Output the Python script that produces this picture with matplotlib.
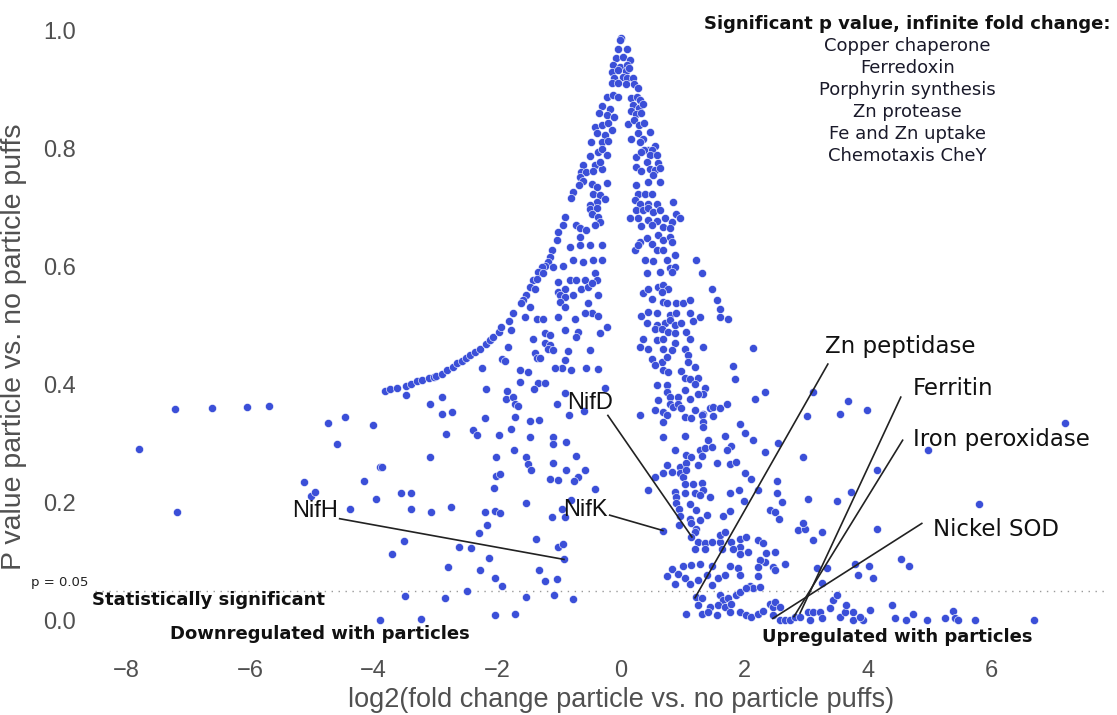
import matplotlib
matplotlib.use("Agg")
import matplotlib.pyplot as plt

# (log2 fold change, p value), grouped by region
peak = [
    (0.01, 0.987), (-0.02, 0.983), (-0.04, 0.968), (0.10, 0.968), (-0.08, 0.952), (0.04, 0.955), (0.15, 0.950),
    (-0.13, 0.941), (-0.02, 0.938), (0.10, 0.940), (-0.15, 0.929), (-0.04, 0.932), (0.08, 0.931), (0.13, 0.936),
    (-0.11, 0.919), (0.03, 0.920), (0.10, 0.918), (0.20, 0.918), (-0.15, 0.910), (-0.04, 0.910), (0.08, 0.908),
    (0.21, 0.909), (0.28, 0.902), (-0.23, 0.887), (-0.12, 0.890), (-0.04, 0.887), (0.16, 0.885), (0.26, 0.887),
    (0.31, 0.881), (-0.31, 0.872), (-0.18, 0.867), (0.20, 0.873), (0.29, 0.868), (0.36, 0.874), (-0.35, 0.859),
    (-0.23, 0.856), (-0.11, 0.853), (0.17, 0.863), (0.25, 0.857), (0.33, 0.860), (-0.42, 0.836), (-0.31, 0.839),
    (-0.20, 0.842), (0.12, 0.840), (0.21, 0.847), (0.29, 0.839), (0.38, 0.842), (0.47, 0.828), (-0.39, 0.825),
    (-0.26, 0.822), (-0.15, 0.831), (0.17, 0.815), (0.28, 0.825), (0.36, 0.816), (-0.49, 0.811), (-0.30, 0.810),
    (-0.20, 0.812), (0.31, 0.810), (0.55, 0.804), (0.44, 0.797), (0.37, 0.797), (0.50, 0.796), (-0.50, 0.787),
    (-0.37, 0.794), (-0.31, 0.798), (-0.23, 0.788), (0.25, 0.785), (0.33, 0.794), (0.47, 0.789), (0.58, 0.789),
    (0.42, 0.777), (0.60, 0.774), (-0.61, 0.771), (-0.42, 0.771), (-0.31, 0.764), (-0.34, 0.777), (0.25, 0.768),
    (0.33, 0.761), (0.47, 0.764), (0.55, 0.763), (0.63, 0.767), (-0.64, 0.760), (-0.56, 0.760), (-0.45, 0.761),
]

upper = [
    (-0.66, 0.751), (-0.62, 0.745), (-0.67, 0.737), (-0.47, 0.739), (-0.38, 0.734), (-0.22, 0.741), (-0.77, 0.726),
    (-0.80, 0.715), (-0.45, 0.723), (-0.34, 0.720), (-0.26, 0.713), (-0.39, 0.709), (-0.50, 0.704), (-0.50, 0.696),
    (-0.39, 0.698), (-0.47, 0.689), (-0.37, 0.684), (-0.34, 0.675), (-0.91, 0.684), (-0.93, 0.669), (-0.72, 0.669),
    (-0.66, 0.664), (-0.56, 0.661), (-0.42, 0.669), (-1.01, 0.658), (-1.04, 0.644), (-0.66, 0.650), (-0.66, 0.636),
    (-0.83, 0.632), (-0.50, 0.636), (-0.31, 0.636), (-1.12, 0.627), (-1.15, 0.616), (-1.18, 0.607), (-0.93, 0.600),
    (-0.77, 0.610), (-0.61, 0.607), (-0.45, 0.610), (-0.31, 0.610), (-1.23, 0.600), (-1.28, 0.599), (-1.09, 0.599),
    (-1.34, 0.590), (-1.26, 0.588), (-1.42, 0.576), (-1.36, 0.579), (-1.01, 0.573), (-0.83, 0.576), (-0.72, 0.576),
    (-0.58, 0.576), (-0.42, 0.588), (-0.39, 0.576), (-1.47, 0.565), (-1.39, 0.562), (-1.01, 0.556), (-0.91, 0.562),
    (-0.64, 0.562), (-0.53, 0.565), (-0.47, 0.571), (-1.53, 0.551), (-1.58, 0.542), (-0.99, 0.551), (-0.91, 0.548),
    (-0.77, 0.551), (-0.37, 0.551), (-1.61, 0.537), (-1.47, 0.531), (-0.99, 0.540), (-0.91, 0.531), (-0.53, 0.537),
    (-0.47, 0.520), (-1.55, 0.514), (-1.36, 0.511), (-1.26, 0.511), (-1.01, 0.514), (-0.74, 0.511), (-0.58, 0.520),
    (-0.37, 0.515),
    (0.25, 0.737), (0.44, 0.743), (0.63, 0.743), (0.52, 0.754), (0.28, 0.723), (0.39, 0.723), (0.50, 0.723),
    (0.23, 0.712), (0.31, 0.706), (0.44, 0.706), (0.25, 0.695), (0.36, 0.695), (0.44, 0.699), (0.58, 0.706),
    (0.52, 0.692), (0.63, 0.695), (0.85, 0.709), (0.15, 0.681), (0.28, 0.681), (0.44, 0.678), (0.58, 0.676),
    (0.71, 0.682), (0.82, 0.675), (0.90, 0.689), (0.95, 0.681), (0.33, 0.668), (0.50, 0.669), (0.69, 0.667),
    (0.79, 0.664), (0.31, 0.641), (0.42, 0.647), (0.50, 0.638), (0.60, 0.653), (0.69, 0.644), (0.79, 0.650),
    (0.82, 0.641), (0.23, 0.628), (0.28, 0.636), (0.58, 0.627), (0.69, 0.627), (0.87, 0.619), (0.74, 0.610),
    (0.39, 0.610), (0.52, 0.609), (0.79, 0.596), (1.22, 0.610), (1.31, 0.589), (0.87, 0.599), (0.42, 0.589),
    (0.63, 0.590), (0.82, 0.590), (0.36, 0.554), (0.44, 0.562), (0.60, 0.565), (0.69, 0.568), (0.77, 0.562),
    (0.66, 0.556), (1.47, 0.562), (0.50, 0.545), (0.69, 0.540), (0.74, 0.537), (0.90, 0.537), (1.01, 0.537),
    (1.12, 0.542), (1.55, 0.542), (0.33, 0.515), (0.44, 0.523), (0.58, 0.521), (0.79, 0.517), (0.90, 0.521),
    (1.12, 0.520), (1.28, 0.514),
]

mid_left = [
    (-3.82, 0.389), (-3.74, 0.391), (-3.62, 0.393), (-3.48, 0.397), (-3.40, 0.401), (-3.30, 0.405), (-3.22, 0.407),
    (-3.11, 0.410), (-3.02, 0.412), (-2.99, 0.413), (-2.90, 0.417), (-2.82, 0.424), (-2.72, 0.429), (-2.65, 0.435),
    (-2.57, 0.439), (-2.50, 0.444), (-2.44, 0.449), (-2.36, 0.454), (-2.28, 0.459), (-2.18, 0.468), (-2.12, 0.474),
    (-2.07, 0.480), (-1.97, 0.488), (-1.94, 0.497), (-1.81, 0.507), (-1.75, 0.520),
    (-1.77, 0.492), (-1.42, 0.477), (-1.23, 0.486), (-1.15, 0.483), (-1.23, 0.470), (-1.14, 0.466), (-1.18, 0.459),
    (-1.09, 0.458), (-0.91, 0.492), (-0.69, 0.489), (-0.72, 0.480), (-0.34, 0.486), (-0.23, 0.497), (-1.82, 0.463),
    (-1.39, 0.453), (-1.36, 0.444), (-1.31, 0.445), (-0.85, 0.456), (-0.50, 0.458), (-1.93, 0.442), (-1.88, 0.440),
    (-0.91, 0.441), (-0.95, 0.427), (-1.07, 0.427), (-0.80, 0.424), (-0.57, 0.428), (-0.37, 0.426), (-2.25, 0.427),
    (-1.63, 0.424), (-1.50, 0.421), (-1.63, 0.404), (-1.34, 0.402), (-1.23, 0.402), (-1.41, 0.392), (-2.18, 0.392),
    (-3.47, 0.381), (-2.90, 0.379), (-1.85, 0.389), (-1.86, 0.374), (-1.74, 0.379), (-1.72, 0.367), (-1.66, 0.363),
    (-3.09, 0.366), (-2.89, 0.350), (-2.74, 0.352), (-2.20, 0.342), (-1.72, 0.344), (-1.47, 0.338), (-1.32, 0.340),
    (-1.04, 0.366), (-0.84, 0.347), (-0.91, 0.385), (-0.59, 0.354), (-0.26, 0.393), (-2.39, 0.323), (-2.32, 0.314),
    (-2.83, 0.315), (-1.97, 0.314), (-1.77, 0.324), (-1.47, 0.311), (-1.09, 0.311), (-1.09, 0.298), (-0.89, 0.302),
    (-3.09, 0.277), (-2.02, 0.277), (-1.73, 0.289), (-1.53, 0.276), (-0.73, 0.278),
]

mid_right = [
    (0.42, 0.504), (0.58, 0.500), (0.71, 0.504), (0.79, 0.508), (0.87, 0.500), (0.98, 0.504), (1.17, 0.507),
    (0.55, 0.494), (0.66, 0.494), (0.77, 0.489), (0.87, 0.486), (1.06, 0.489), (0.36, 0.477), (0.58, 0.475),
    (0.69, 0.476), (0.87, 0.469), (1.12, 0.476), (1.33, 0.463), (0.31, 0.463), (0.44, 0.459), (0.69, 0.460),
    (0.82, 0.458), (1.04, 0.459), (1.09, 0.449), (0.50, 0.442), (0.66, 0.438), (0.74, 0.446), (1.09, 0.438),
    (1.20, 0.429), (0.55, 0.432), (0.69, 0.424), (0.77, 0.421), (0.98, 0.423), (1.04, 0.411), (1.12, 0.409),
    (1.25, 0.410), (1.36, 0.394), (0.58, 0.398), (0.74, 0.398), (0.74, 0.387), (1.04, 0.390), (1.20, 0.401),
    (1.33, 0.384), (0.60, 0.373), (0.79, 0.379), (0.93, 0.379), (1.12, 0.374), (1.25, 0.384), (0.79, 0.367),
    (0.85, 0.362), (0.93, 0.367), (0.98, 0.359), (1.20, 0.356), (1.33, 0.350), (1.44, 0.359), (1.49, 0.362),
    (0.31, 0.347), (0.55, 0.356), (0.69, 0.353), (0.74, 0.347), (1.04, 0.345), (1.14, 0.342), (1.31, 0.347),
    (1.49, 0.346), (0.69, 0.336), (1.33, 0.336), (1.33, 0.327), (0.69, 0.310), (1.04, 0.312), (1.41, 0.306),
    (0.87, 0.288), (1.28, 0.289), (1.36, 0.291), (1.47, 0.294), (1.06, 0.280), (1.14, 0.277), (1.31, 0.278),
    (0.74, 0.263), (0.95, 0.260), (1.06, 0.266), (1.25, 0.263), (1.55, 0.267),
    (1.60, 0.514), (1.74, 0.510), (1.60, 0.528), (2.14, 0.462), (1.81, 0.431), (1.84, 0.408), (2.33, 0.387),
    (2.17, 0.374), (1.93, 0.332), (2.01, 0.318), (1.60, 0.360), (1.71, 0.366), (1.68, 0.312), (2.14, 0.306),
    (2.55, 0.301), (1.79, 0.295), (1.71, 0.288), (2.33, 0.285), (2.95, 0.276), (3.11, 0.387), (3.68, 0.372),
    (3.98, 0.356), (3.54, 0.350), (3.02, 0.346), (7.19, 0.334), (4.97, 0.288), (4.15, 0.254),
]

low_left = [
    (-7.80, 0.290), (-7.22, 0.358), (-7.18, 0.183), (-6.62, 0.359), (-6.05, 0.361), (-5.70, 0.363), (-5.13, 0.234),
    (-5.02, 0.210), (-4.95, 0.217), (-4.74, 0.334), (-4.60, 0.298), (-4.47, 0.344), (-4.39, 0.188), (-4.16, 0.236),
    (-4.01, 0.330), (-3.96, 0.205), (-3.90, 0.259), (-3.71, 0.113), (-3.90, 0.0),
    (-3.87, 0.260), (-1.50, 0.264), (-1.45, 0.254), (-1.09, 0.266), (-0.88, 0.254), (-0.58, 0.254), (-2.02, 0.244),
    (-1.96, 0.247), (-1.15, 0.240), (-1.01, 0.237), (-0.69, 0.243), (-0.75, 0.236), (-2.05, 0.224), (-0.42, 0.223),
    (-3.55, 0.215), (-3.40, 0.216), (-3.39, 0.189), (-3.08, 0.184), (-2.75, 0.192), (-2.20, 0.184), (-2.03, 0.185),
    (-1.95, 0.182), (-1.54, 0.199), (-1.12, 0.175), (-0.96, 0.188), (-0.91, 0.175), (-0.80, 0.203), (-2.17, 0.161),
    (-2.29, 0.147), (-3.51, 0.134), (-1.38, 0.137), (-1.01, 0.124), (-0.94, 0.129), (-2.62, 0.124), (-2.42, 0.123),
    (-2.14, 0.106), (-0.92, 0.103), (-2.80, 0.091), (-2.28, 0.085), (-1.32, 0.085), (-2.03, 0.072), (-1.22, 0.066),
    (-1.04, 0.070), (-1.93, 0.058), (-2.49, 0.050), (-3.50, 0.041), (-2.84, 0.038), (-1.54, 0.040), (-1.08, 0.042),
    (-0.77, 0.036), (-3.24, 0.002), (-2.03, 0.008), (-1.72, 0.010),
]

low_right = [
    (1.76, 0.264), (1.87, 0.268), (0.55, 0.243), (0.69, 0.249), (0.82, 0.251), (0.95, 0.249), (1.01, 0.243),
    (1.06, 0.254), (2.01, 0.249), (2.11, 0.240), (2.52, 0.236), (0.44, 0.221), (0.87, 0.218), (1.04, 0.231),
    (1.17, 0.231), (1.31, 0.233), (1.33, 0.220), (1.20, 0.215), (1.04, 0.215), (0.90, 0.209), (1.44, 0.208),
    (1.28, 0.212), (1.76, 0.215), (1.91, 0.221), (2.22, 0.220), (2.52, 0.215), (1.99, 0.202), (2.60, 0.201),
    (3.03, 0.206), (3.49, 0.202), (3.72, 0.218), (0.90, 0.198), (0.94, 0.188), (1.12, 0.197), (1.21, 0.186),
    (1.39, 0.178), (1.76, 0.185), (1.66, 0.176), (2.41, 0.186), (2.49, 0.184), (2.56, 0.171), (0.95, 0.176),
    (1.12, 0.171), (1.14, 0.164), (1.28, 0.169), (1.22, 0.155), (1.20, 0.150), (0.94, 0.161), (0.68, 0.152),
    (1.14, 0.141), (1.25, 0.133), (1.36, 0.130), (1.47, 0.133), (1.60, 0.133), (1.20, 0.121), (1.36, 0.121),
    (1.60, 0.144), (1.68, 0.150), (1.79, 0.133), (1.93, 0.138), (2.03, 0.141), (1.93, 0.124), (1.63, 0.120),
    (1.82, 0.120), (1.93, 0.113), (2.06, 0.116), (2.22, 0.136), (2.30, 0.131), (2.35, 0.114), (2.49, 0.116),
    (2.33, 0.099), (2.25, 0.102), (2.22, 0.090), (2.47, 0.090), (2.49, 0.085), (2.65, 0.095), (2.87, 0.153),
    (2.98, 0.154), (2.95, 0.164), (3.11, 0.136), (3.25, 0.150), (3.17, 0.088), (3.25, 0.063), (3.33, 0.088),
    (3.79, 0.095), (3.84, 0.076), (4.02, 0.092), (4.08, 0.072), (4.15, 0.155), (0.74, 0.075), (0.82, 0.086),
    (0.93, 0.079), (1.01, 0.092), (1.14, 0.093), (1.28, 0.096), (1.47, 0.092), (1.04, 0.071), (0.87, 0.061),
    (1.12, 0.061), (1.25, 0.068), (1.39, 0.076), (1.47, 0.059), (1.57, 0.071), (1.68, 0.076), (1.76, 0.092),
    (1.90, 0.088), (1.93, 0.076), (2.09, 0.058), (2.22, 0.075), (2.14, 0.054), (2.25, 0.056), (1.22, 0.040),
    (1.31, 0.038), (1.60, 0.042), (1.66, 0.034), (1.74, 0.038), (1.58, 0.025), (1.68, 0.023), (1.79, 0.028),
    (1.87, 0.042), (1.93, 0.048), (2.03, 0.054), (1.76, 0.014), (1.93, 0.014), (2.03, 0.008), (2.11, 0.006),
    (2.22, 0.010), (2.30, 0.016), (1.55, 0.008), (1.44, 0.023), (1.25, 0.025), (1.31, 0.011), (1.06, 0.010),
    (1.41, 0.014), (2.41, 0.028), (2.47, 0.023), (2.49, 0.031), (2.57, 0.023), (2.47, 0.008), (2.57, 0.0),
    (2.65, 0.001), (2.73, 0.001), (2.82, 0.006), (2.90, 0.006), (3.03, 0.014), (3.11, 0.014), (3.06, 0.0),
    (3.22, 0.014), (3.25, 0.003), (3.44, 0.034), (3.38, 0.020), (3.49, 0.042), (3.54, 0.006), (3.62, 0.014),
    (3.65, 0.025), (3.76, 0.014), (3.76, 0.0), (3.92, 0.0), (3.87, 0.006), (4.03, 0.017), (4.38, 0.025),
    (4.43, 0.003), (4.62, 0.0), (4.73, 0.010), (4.96, 0.0), (5.24, 0.003), (5.37, 0.016), (5.41, 0.003),
    (5.46, 0.0), (5.73, 0.0), (6.69, 0.0), (4.54, 0.103), (4.66, 0.092), (5.80, 0.197),
]

infinite_fc = ["Copper chaperone", "Ferredoxin", "Porphyrin synthesis",
               "Zn protease", "Fe and Zn uptake", "Chemotaxis CheY"]

# label, text position, alignment, line start, line end (the labelled gene)
callouts = [
    ("NifH", (-4.58, 0.185), "right", (-4.55, 0.172), (-0.92, 0.103)),
    ("NifD", (-0.49, 0.368), "center", (-0.21, 0.347), (1.15, 0.141)),
    ("NifK", (-0.57, 0.186), "center", (-0.18, 0.178), (0.68, 0.152)),
    ("Zn peptidase", (3.30, 0.463), "left", (3.35, 0.434), (1.20, 0.038)),
    ("Ferritin", (4.72, 0.393), "left", (4.53, 0.378), (2.90, 0.012)),
    ("Iron peroxidase", (4.72, 0.307), "left", (4.56, 0.305), (2.80, 0.006)),
    ("Nickel SOD", (5.05, 0.153), "left", (4.87, 0.164), (2.46, 0.003)),
]

points = peak + upper + mid_left + mid_right + low_left + low_right
xs = [p[0] for p in points]
ps = [p[1] for p in points]

fig = plt.figure(figsize=(11.17, 7.15), dpi=100)
ax = fig.add_axes([0.085, 0.088, 0.904, 0.884])

ax.scatter(xs, ps, s=34, color="#3b4fd8", edgecolors="white", linewidths=0.4, zorder=3)
ax.axhline(0.05, color="#9a9a9a", lw=1.0, ls=(0, (1, 4)), zorder=1)

ax.set_xlim(-8.51, 7.83)
ax.set_ylim(-0.054, 1.017)
ax.set_xticks([-8, -6, -4, -2, 0, 2, 4, 6])
ax.set_yticks([0.0, 0.2, 0.4, 0.6, 0.8, 1.0])
ax.set_xticklabels(["\u22128", "\u22126", "\u22124", "\u22122", "0", "2", "4", "6"])
for s in ax.spines.values():
    s.set_visible(False)
ax.tick_params(length=0, labelsize=17, labelcolor="#505050", pad=6)
ax.tick_params(axis="y", pad=14)
for lab in ax.get_xticklabels() + ax.get_yticklabels():
    lab.set_family("Liberation Sans")

ax.set_xlabel("log2(fold change particle vs. no particle puffs)", fontsize=19.5,
              color="#505050", family="Liberation Sans")
ax.set_ylabel("P value particle vs. no particle puffs", fontsize=20.5,
              color="#505050", family="Liberation Sans")
ax.xaxis.set_label_coords(0.521, -0.056)
ax.yaxis.set_label_coords(-0.067, 0.483)

# callouts
for name, (tx, ty), ha, (x0, y0), (x1, y1) in callouts:
    fam = "Liberation Sans" if name.startswith("Nif") else "DejaVu Sans"
    size = 17 if name.startswith("Nif") else 16.5
    ax.plot([x0, x1], [y0, y1], color="#222222", lw=1.2, zorder=4)
    ax.text(tx, ty, name, ha=ha, va="center", fontsize=size, family=fam, color="#111111", zorder=5)

ax.text(-8.62, 0.064, "p = 0.05", ha="right", va="center", fontsize=9.5, color="#222222", clip_on=False)
ax.text(-8.56, 0.034, "Statistically significant", ha="left", va="center", fontsize=13,
        fontweight="bold", color="#111111")
ax.text(-7.30, -0.024, "Downregulated with particles", ha="left", va="center", fontsize=13,
        fontweight="bold", color="#111111")
ax.text(2.28, -0.029, "Upregulated with particles", ha="left", va="center", fontsize=13,
        fontweight="bold", color="#111111")

ax.text(4.64, 1.010, "Significant p value, infinite fold change:", ha="center", va="center",
        fontsize=13, fontweight="bold", color="#111111")
for i, item in enumerate(infinite_fc):
    ax.text(4.64, 0.973 - 0.0373 * i, item, ha="center", va="center", fontsize=13, color="#1a1a2a")

fig.savefig("out.png", dpi=100)
